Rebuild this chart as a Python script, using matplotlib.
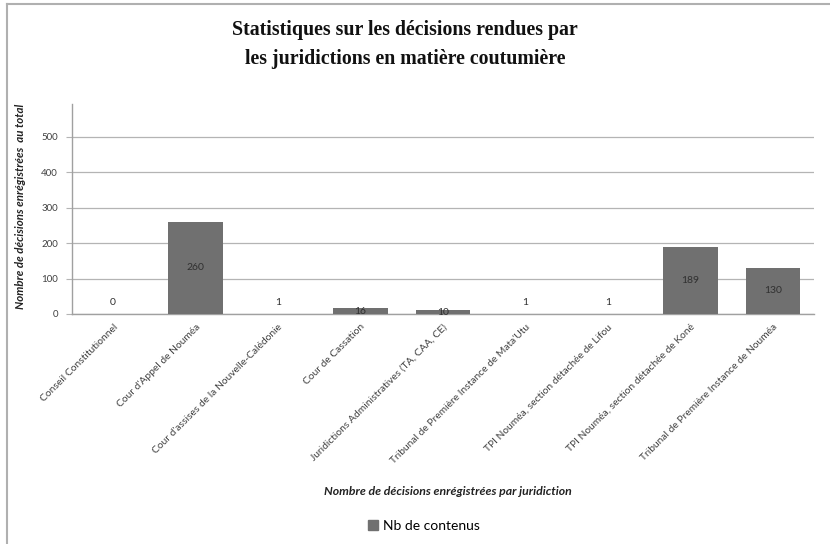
import matplotlib
matplotlib.use("Agg")
import matplotlib.pyplot as plt
from matplotlib.lines import Line2D
from matplotlib.patches import Patch

categories = [
    "Conseil Constitutionnel",
    "Cour d'Appel de Nouméa",
    "Cour d'assises de la Nouvelle-Calédonie",
    "Cour de Cassation",
    "Juridictions Administratives (TA, CAA, CE)",
    "Tribunal de Première Instance de Mata'Utu",
    "TPI Nouméa, section détachée de Lifou",
    "TPI Nouméa, section détachée de Koné",
    "Tribunal de Première Instance de Nouméa",
]
values = [0, 260, 1, 16, 10, 1, 1, 189, 130]
yticks = [0, 100, 200, 300, 400, 500]
series_name = "Nb de contenus"
title = "Statistiques sur les décisions rendues par\nles juridictions en matière coutumière"
ylabel = "Nombre de décisions enrégistrées  au total"
xlabel = "Nombre de décisions enrégistrées par juridiction"

bar_color = "#707070"
grid_color = "#b4b4b4"
txt_color = "#404040"
sans = ["Lato", "DejaVu Sans"]

fig = plt.figure(figsize=(8.30, 5.44), dpi=100)
ax = fig.add_axes([0.0867, 0.4228, 0.894, 0.386])

x = list(range(len(categories)))
bars = ax.bar(x, values, width=0.66, color=bar_color, zorder=3)

ax.set_xlim(-0.5, len(categories) - 0.5)
ax.set_ylim(0, 592)
ax.set_yticks(yticks)
ax.set_yticklabels([str(t) for t in yticks], family=sans, fontsize=7, color=txt_color)
ax.tick_params(axis="y", length=4, color=grid_color, pad=6)
ax.yaxis.grid(True, color=grid_color, linewidth=0.9, zorder=0)
ax.set_axisbelow(True)

ax.set_xticks(x)
ax.set_xticklabels(categories, rotation=45, ha="right", rotation_mode="anchor",
                   family=sans, fontsize=7.4, color=txt_color)
ax.tick_params(axis="x", length=0, pad=6)

for s in ["top", "right"]:
    ax.spines[s].set_visible(False)
for s in ["left", "bottom"]:
    ax.spines[s].set_color("#a0a0a0")
    ax.spines[s].set_linewidth(1.0)

# value labels
for xi, v in zip(x, values):
    if v <= 2:
        ax.annotate(str(v), (xi, v), xytext=(0, 8), textcoords="offset points",
                    ha="center", va="center", family=sans, fontsize=7.5, color="#303030")
    else:
        ax.text(xi, v / 2, str(v), ha="center", va="center", family=sans,
                fontsize=7.5, color="#303030", zorder=4)

fig.text(0.488, 0.918, title, ha="center", va="center", family=["Liberation Serif"],
         fontweight="bold", fontsize=14.3, linespacing=1.55, color="#111111")

fig.text(0.025, 0.62, ylabel, rotation=90, ha="center", va="center",
         family=sans, fontstyle="italic", fontweight="bold", fontsize=8.3, color="#222222")
fig.text(0.54, 0.096, xlabel, ha="center", va="center",
         family=sans, fontstyle="italic", fontweight="bold", fontsize=8.8, color="#222222")

fig.legend(handles=[Patch(facecolor=bar_color, edgecolor=bar_color, label=series_name)],
           loc="center", bbox_to_anchor=(0.511, 0.033), frameon=False,
           prop={"family": sans, "size": 10}, handlelength=0.75, handleheight=0.75,
           handletextpad=0.35)

# figure border (top and left)
fig.add_artist(Line2D([0.008, 1.0], [0.993, 0.993], transform=fig.transFigure,
                      color="#b0b0b0", linewidth=1.5))
fig.add_artist(Line2D([0.008, 0.008], [0.0, 0.993], transform=fig.transFigure,
                      color="#b0b0b0", linewidth=1.5))

fig.savefig("out.png", dpi=100, facecolor="white")
